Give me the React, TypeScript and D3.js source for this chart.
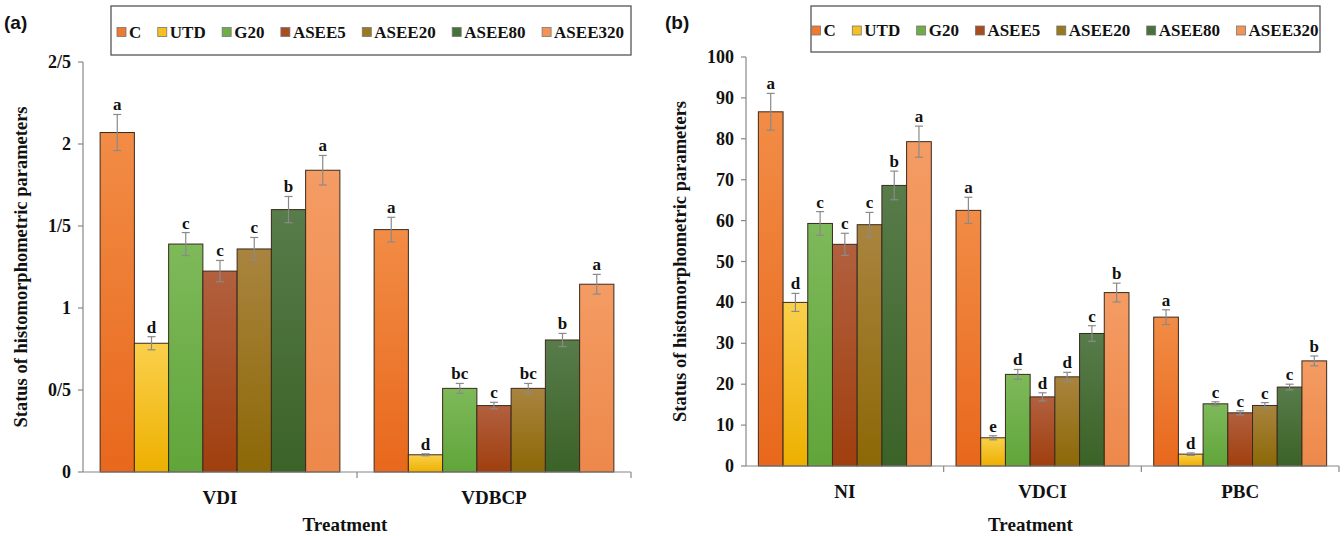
import React from "react";
import * as d3 from "d3";

const series = ["C", "UTD", "G20", "ASEE5", "ASEE20", "ASEE80", "ASEE320"];
const colorTop = ["#F28C46", "#FAD04C", "#7EB95A", "#B2603F", "#A9843F", "#587C4A", "#F49C64"];
const colorBottom = ["#E8681C", "#EDB000", "#60A53A", "#A03F0E", "#8C6806", "#3B6227", "#ED884A"];
const colorLegend = ["#EE7A30", "#F5C020", "#70AD47", "#A94C20", "#9A7820", "#48703A", "#F29458"];

// Panel (a)
const catsA = ["VDI", "VDBCP"];
const valsA_VDI = [2.07, 0.785, 1.39, 1.225, 1.36, 1.6, 1.84];
const errA_VDI = [0.11, 0.04, 0.07, 0.065, 0.07, 0.08, 0.09];
const lblA_VDI = ["a", "d", "c", "c", "c", "b", "a"];
const valsA_VDBCP = [1.478, 0.105, 0.51, 0.405, 0.51, 0.805, 1.145];
const errA_VDBCP = [0.075, 0.006, 0.03, 0.02, 0.03, 0.04, 0.06];
const lblA_VDBCP = ["a", "d", "bc", "c", "bc", "b", "a"];
const ticksA = [0, 0.5, 1, 1.5, 2, 2.5];
const tickLabelsA = ["0", "0/5", "1", "1/5", "2", "2/5"];

// Panel (b)
const catsB = ["NI", "VDCI", "PBC"];
const valsB_NI = [86.6, 40.0, 59.3, 54.2, 59.0, 68.6, 79.3];
const errB_NI = [4.5, 2.2, 2.9, 2.7, 3.0, 3.5, 3.8];
const lblB_NI = ["a", "d", "c", "c", "c", "b", "a"];
const valsB_VDCI = [62.5, 6.9, 22.4, 16.9, 21.8, 32.4, 42.4];
const errB_VDCI = [3.2, 0.5, 1.2, 1.0, 1.1, 1.9, 2.3];
const lblB_VDCI = ["a", "e", "d", "d", "d", "c", "b"];
const valsB_PBC = [36.4, 2.9, 15.2, 13.0, 14.8, 19.3, 25.7];
const errB_PBC = [1.8, 0.3, 0.5, 0.5, 0.7, 0.7, 1.2];
const lblB_PBC = ["a", "d", "c", "c", "c", "c", "b"];
const ticksB = [0, 10, 20, 30, 40, 50, 60, 70, 80, 90, 100];

const SERIF = "'Liberation Serif', 'Times New Roman', serif";
const SANS = "'Liberation Sans', Arial, sans-serif";

type PanelProps = {
  id: string;
  cats: string[];
  vals: number[][];
  errs: number[][];
  lbls: string[][];
  ticks: number[];
  tickLabels: string[];
  yMax: number;
  x0: number;
  x1: number;
  y0: number;
  y1: number;
  titleX: number;
  legendX: number;
  legendY: number;
  legendW: number;
  legendH: number;
  panelLabel: string;
  panelLabelX: number;
};

function Panel(p: PanelProps) {
  const x = d3.scaleBand<string>().domain(p.cats).range([p.x0, p.x1]).paddingInner(0).paddingOuter(0);
  const xs = d3.scaleBand<string>().domain(series).range([0, x.bandwidth()]).paddingInner(0).paddingOuter(0.5);
  const y = d3.scaleLinear().domain([0, p.yMax]).range([p.y0, p.y1]);
  const bw = xs.bandwidth();
  const legendItems: { x: number; name: string; i: number }[] = [];
  // legend layout
  const fs = 17;
  const charW: Record<string, number> = { A: 0.722, S: 0.556, E: 0.667, C: 0.722, U: 0.722, T: 0.667, D: 0.722, G: 0.778 };
  const textW = (s: string) => s.split("").reduce((a, c) => a + (charW[c] ?? 0.5), 0) * fs;
  const itemW = series.map((s) => 9 + 4 + textW(s));
  const gap = 15.5;
  const total = itemW.reduce((a, b) => a + b, 0) + gap * (series.length - 1);
  let cx = p.legendX + (p.legendW - total) / 2;
  series.forEach((s, i) => {
    legendItems.push({ x: cx, name: s, i });
    cx += itemW[i] + gap;
  });
  const ly = p.legendY + p.legendH / 2 + 2;
  return (
    <g>
      <defs>
        {series.map((s, i) => (
          <linearGradient key={s} id={`${p.id}-g${i}`} x1="0" y1="0" x2="0" y2="1">
            <stop offset="0%" stopColor={colorTop[i]} />
            <stop offset="100%" stopColor={colorBottom[i]} />
          </linearGradient>
        ))}
      </defs>
      <text x={p.panelLabelX} y={29} fontFamily={SANS} fontWeight="bold" fontSize={19} fill="#111">
        {p.panelLabel}
      </text>
      {/* legend */}
      <rect x={p.legendX} y={p.legendY} width={p.legendW} height={p.legendH} fill="white" stroke="#555" strokeWidth={1.3} />
      {legendItems.map((it) => (
        <g key={it.name}>
          <rect x={it.x} y={ly - 5} width={9} height={9} fill={colorLegend[it.i]} stroke="#777" strokeWidth={0.8} />
          <text x={it.x + 12} y={ly + 5} fontFamily={SERIF} fontWeight="bold" fontSize={fs} fill="#111">
            {it.name}
          </text>
        </g>
      ))}
      {/* y axis */}
      <line x1={p.x0} x2={p.x0} y1={y(p.yMax)} y2={y(0)} stroke="#888" strokeWidth={1.2} />
      {p.ticks.map((t, i) => (
        <g key={t}>
          <line x1={p.x0 - 5} x2={p.x0} y1={y(t)} y2={y(t)} stroke="#888" strokeWidth={1.2} />
          <text x={p.x0 - 12} y={y(t) + 6} textAnchor="end" fontFamily={SERIF} fontWeight="bold" fontSize={18} fill="#111">
            {p.tickLabels[i]}
          </text>
        </g>
      ))}
      <text
        transform={`translate(${p.titleX},${(y(0) + y(p.yMax)) / 2}) rotate(-90)`}
        textAnchor="middle"
        dy="0.35em"
        fontFamily={SERIF}
        fontWeight="bold"
        fontSize={18.5}
        fill="#111"
      >
        Status of histomorphometric parameters
      </text>
      {/* bars */}
      {p.cats.map((c, ci) => (
        <g key={c}>
          {series.map((s, si) => {
            const v = p.vals[ci][si];
            const e = p.errs[ci][si];
            const bx = (x(c) as number) + (xs(s) as number);
            const cxm = bx + bw / 2;
            return (
              <g key={s}>
                <rect x={bx} y={y(v)} width={bw} height={y(0) - y(v)} fill={`url(#${p.id}-g${si})`} stroke="#3a2a1e" strokeWidth={1} />
                <line x1={cxm} x2={cxm} y1={y(v + e)} y2={y(v - e)} stroke="#8a8a8a" strokeWidth={1.2} />
                <line x1={cxm - 4} x2={cxm + 4} y1={y(v + e)} y2={y(v + e)} stroke="#8a8a8a" strokeWidth={1.2} />
                <line x1={cxm - 4} x2={cxm + 4} y1={y(v - e)} y2={y(v - e)} stroke="#8a8a8a" strokeWidth={1.2} />
                <text x={cxm} y={y(v + e) - 4} textAnchor="middle" fontFamily={SERIF} fontWeight="bold" fontSize={17} fill="#111">
                  {p.lbls[ci][si]}
                </text>
              </g>
            );
          })}
        </g>
      ))}
      {/* x axis */}
      <line x1={p.x0} x2={p.x1} y1={y(0)} y2={y(0)} stroke="#888" strokeWidth={1.2} />
      {p.cats.map((c, ci) => (
        <g key={c}>
          <line x1={(x(c) as number) + x.bandwidth()} x2={(x(c) as number) + x.bandwidth()} y1={y(0)} y2={y(0) + 6} stroke="#888" strokeWidth={1.2} />
          <text x={(x(c) as number) + x.bandwidth() / 2} y={y(0) + 32} textAnchor="middle" fontFamily={SERIF} fontWeight="bold" fontSize={19} fill="#111">
            {c}
          </text>
        </g>
      ))}
      <text x={(p.x0 + p.x1) / 2 - 12} y={531} textAnchor="middle" fontFamily={SERIF} fontWeight="bold" fontSize={19} fill="#111">
        Treatment
      </text>
    </g>
  );
}

export default function App() {
  return (
    <svg
      width={1344}
      height={536}
      style={{ position: "absolute", left: 0, top: 0, background: "white" }}
    >
      <rect x={0} y={0} width={1344} height={536} fill="white" />
      <Panel
        id="pa"
        cats={catsA}
        vals={[valsA_VDI, valsA_VDBCP]}
        errs={[errA_VDI, errA_VDBCP]}
        lbls={[lblA_VDI, lblA_VDBCP]}
        ticks={ticksA}
        tickLabels={tickLabelsA}
        yMax={2.5}
        x0={83}
        x1={631}
        y0={472}
        y1={62}
        titleX={21}
        legendX={111}
        legendY={6}
        legendW={520}
        legendH={49}
        panelLabel="(a)"
        panelLabelX={4}
      />
      <Panel
        id="pb"
        cats={catsB}
        vals={[valsB_NI, valsB_VDCI, valsB_PBC]}
        errs={[errB_NI, errB_VDCI, errB_PBC]}
        lbls={[lblB_NI, lblB_VDCI, lblB_PBC]}
        ticks={ticksB}
        tickLabels={ticksB.map(String)}
        yMax={100}
        x0={746}
        x1={1339}
        y0={466}
        y1={57}
        titleX={680}
        legendX={811}
        legendY={6}
        legendW={509}
        legendH={46}
        panelLabel="(b)"
        panelLabelX={665}
      />
    </svg>
  );
}
